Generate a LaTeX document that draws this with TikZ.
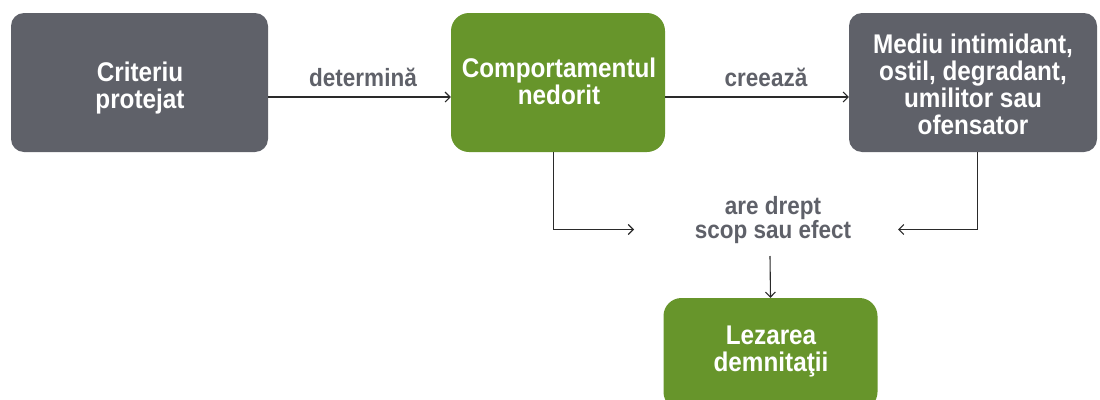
\documentclass[tikz,border=0pt]{standalone}
\usepackage{fontspec}
\setmainfont{Liberation Sans}[FakeStretch=0.9]
\usetikzlibrary{arrows.meta}
\definecolor{boxgray}{HTML}{5F6169}
\definecolor{boxgreen}{HTML}{67952B}
\definecolor{linecol}{HTML}{2A2A2A}
\tikzset{
  graybox/.style={rectangle, rounded corners=13pt, fill=boxgray, inner sep=0pt},
  greenbox/.style={rectangle, rounded corners=18pt, fill=boxgreen, inner sep=0pt},
  boxtext/.style={text=white, align=center, font=\fontsize{27}{27}\selectfont\bfseries, inner sep=0pt},
  lbl/.style={text=boxgray, align=center, font=\fontsize{25}{22.5}\selectfont\bfseries, inner sep=0pt},
  arr/.style={draw=linecol, line width=1.1pt, -{Straight Barb[length=5pt,width=10pt,line width=1.1pt]}},
}
\begin{document}
\begin{tikzpicture}[x=1pt,y=-1pt]
\useasboundingbox (0,0) rectangle (1100,399);
\node[graybox, minimum width=257pt, minimum height=139pt] (b1) at (139.5,82.5) {};
\node[greenbox, minimum width=214pt, minimum height=139pt] (b2) at (558,82.5) {};
\node[graybox, minimum width=248pt, minimum height=139pt] (b3) at (973,82.5) {};
\node[greenbox, minimum width=214pt, minimum height=112pt] (b4) at (770.5,354) {};
\node[boxtext] (t1) at (140,88) {Criteriu\\protejat};
\node[boxtext] (t2) at (559,81.5) {Comportamentul\\nedorit};
\node[boxtext] (t3) at (973,84) {Mediu intimidant,\\ostil, degradant,\\umilitor sau\\ofensator};
\node[boxtext] (t4) at (771,352) {Lezarea\\demnitaţii};
\node[lbl, anchor=base] (l1) at (363,86) {determină};
\node[lbl, anchor=base] (l2) at (766,86) {creează};
\node[lbl] (mid) at (773,220) {are drept\\scop sau efect};
\coordinate (r1) at (0,97);
\coordinate (xl) at (553.5,0);
\coordinate (xr) at (977.5,0);
\coordinate (inL) at (634,229.5);
\coordinate (inR) at (898,229.5);
\coordinate (dn) at (770,256);
\draw[arr] (b1.east |- r1) -- (b2.west |- r1);
\draw[arr] (b2.east |- r1) -- (b3.west |- r1);
\draw[arr] (xl |- b2.south) |- (inL);
\draw[arr] (xr |- b3.south) |- (inR);
\draw[arr] (dn) -- (b4.north);
\end{tikzpicture}
\end{document}
